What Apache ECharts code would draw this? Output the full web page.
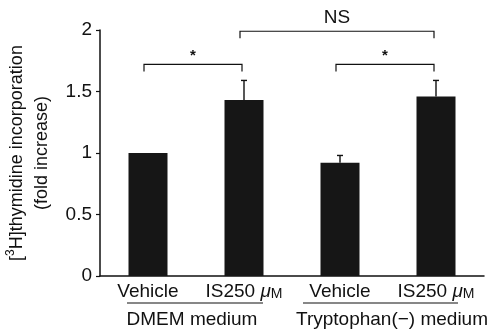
<!DOCTYPE html>
<html>
<head>
<meta charset="utf-8">
<script src="https://cdn.jsdelivr.net/npm/echarts@6/dist/echarts.min.js"></script>
<style>
  html, body { margin: 0; padding: 0; background: #fff; }
  #chart { width: 494px; height: 330px; }
</style>
</head>
<body>
<div id="chart"></div>
<script>
// Treatment categories along the x axis
const categories = ['Vehicle', 'IS250 μM', 'Vehicle', 'IS250 μM'];
// Mean fold increase of [3H]thymidine incorporation
const means = [1.00, 1.43, 0.92, 1.46];
// Upper error (SD) for each bar
const errors = [0.00, 0.16, 0.06, 0.13];
// Medium groups, each covering two categories
const groups = [
  { name: 'DMEM medium', from: 0, to: 1 },
  { name: 'Tryptophan(\u2212) medium', from: 2, to: 3 }
];
// Pairwise comparisons shown as brackets above the bars
const comparisons = [
  { from: 0, to: 1, label: '*', level: 1.72 },
  { from: 2, to: 3, label: '*', level: 1.72 },
  { from: 1, to: 3, label: 'NS', level: 1.99 }
];
const yTicks = { min: 0, max: 2, interval: 0.5 };

const FONT = 'Liberation Sans, Arial, Helvetica, sans-serif';
const INK = '#111';

const chart = echarts.init(document.getElementById('chart'), null, { renderer: 'canvas' });

function catLabel(v) {
  if (v.indexOf('μM') >= 0) {
    return v.replace('μM', '{mu|μ}{sm|M}');
  }
  return v;
}

const option = {
  animation: false,
  backgroundColor: '#fff',
  grid: { left: 100, right: 10, top: 30, bottom: 54, containLabel: false, outerBoundsMode: 'none' },
  xAxis: {
    type: 'category',
    data: categories,
    axisLine: { lineStyle: { color: INK, width: 1.5 } },
    axisTick: { show: false },
    axisLabel: {
      interval: 0,
      hideOverlap: false,
      margin: 6,
      color: INK,
      fontFamily: FONT,
      fontSize: 19,
      formatter: catLabel,
      rich: {
        mu: { fontFamily: FONT, fontSize: 19, fontStyle: 'italic', color: INK },
        sm: { fontFamily: FONT, fontSize: 14, color: INK, verticalAlign: 'bottom', padding: [4, 0, 0, 0] }
      }
    }
  },
  yAxis: {
    type: 'value',
    min: yTicks.min,
    max: yTicks.max,
    interval: yTicks.interval,
    splitLine: { show: false },
    axisLine: { show: true, lineStyle: { color: INK, width: 1.5 } },
    axisTick: { show: true, length: 4, lineStyle: { color: INK, width: 1.2 } },
    axisLabel: { margin: 8, color: INK, fontFamily: FONT, fontSize: 19 },
    name: '[{sup|3}H]thymidine incorporation\n(fold increase)',
    nameLocation: 'middle',
    nameRotate: 90,
    nameGap: 38,
    nameTextStyle: {
      color: INK, fontFamily: FONT, fontSize: 18, lineHeight: 25, align: 'center',
      rich: {
        sup: { fontFamily: FONT, fontSize: 12, color: INK, verticalAlign: 'top', lineHeight: 25, padding: [0, 0, 8, 0] }
      }
    }
  },
  series: [
    {
      type: 'bar',
      data: means,
      barWidth: 39,
      itemStyle: { color: '#161616' },
      z: 2
    },
    {
      type: 'custom',
      data: means.map((m, i) => [i, m, m + errors[i]]),
      z: 3,
      renderItem: function (params, api) {
        const i = api.value(0);
        if (errors[i] <= 0) return null;
        const base = api.coord([i, api.value(1)]);
        const top = api.coord([i, api.value(2)]);
        const cap = 3;
        return {
          type: 'group',
          children: [
            { type: 'line', shape: { x1: base[0], y1: base[1], x2: top[0], y2: top[1] },
              style: { stroke: INK, lineWidth: 1.4 } },
            { type: 'line', shape: { x1: top[0] - cap, y1: top[1], x2: top[0] + cap, y2: top[1] },
              style: { stroke: INK, lineWidth: 1.4 } }
          ]
        };
      }
    }
  ]
};

chart.setOption(option);

// Annotations placed through the chart's own coordinate system
function px(cat, val) {
  return chart.convertToPixel({ gridIndex: 0 }, [cat, val]);
}

const elements = [];
const drop = 7;
comparisons.forEach(c => {
  const a = px(c.from, c.level);
  const b = px(c.to, c.level);
  const x1 = a[0] - 4, x2 = b[0] - 2, y = a[1];
  elements.push({
    type: 'polyline',
    shape: { points: [[x1, y + drop], [x1, y], [x2, y], [x2, y + drop]] },
    style: { stroke: INK, lineWidth: 1.2, fill: null }
  });
  const isStar = c.label === '*';
  elements.push({
    type: 'text',
    style: {
      text: c.label,
      x: (x1 + x2) / 2,
      y: y - (isStar ? 1 : 4),
      align: 'center',
      verticalAlign: 'bottom',
      font: (isStar ? 'bold 15px ' : '19px ') + FONT,
      fill: INK
    }
  });
});

groups.forEach((g, k) => {
  const a = px(g.from, 0);
  const b = px(g.to, 0);
  const ext = k === 0 ? [-21, 19] : [-37, 22];
  const yLine = a[1] + 27;
  elements.push({
    type: 'line',
    shape: { x1: a[0] + ext[0], y1: yLine, x2: b[0] + ext[1], y2: yLine },
    style: { stroke: INK, lineWidth: 1.2 }
  });
  elements.push({
    type: 'text',
    style: {
      text: g.name,
      x: (a[0] + b[0]) / 2 + (k === 0 ? -4 : 4),
      y: yLine + 7,
      align: 'center',
      verticalAlign: 'top',
      font: '19px ' + FONT,
      fill: INK
    }
  });
});

chart.setOption({ graphic: { elements: elements } });
</script>
</body>
</html>
